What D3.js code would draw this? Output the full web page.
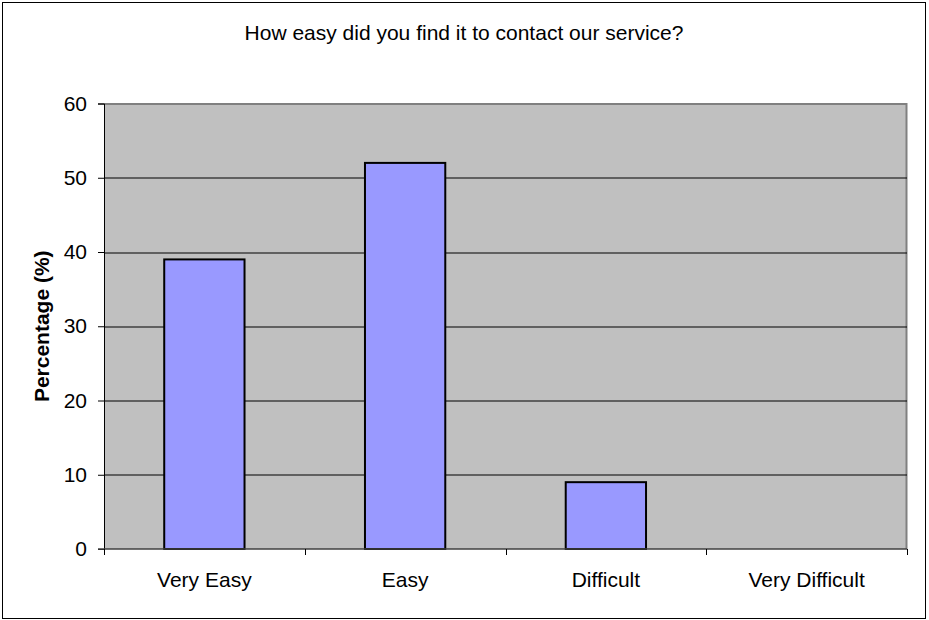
<!DOCTYPE html>
<html>
<head>
<meta charset="utf-8">
<script src="https://cdn.jsdelivr.net/npm/d3@7"></script>
<style>
  body { margin: 0; background: #fff; }
  svg { display: block; font-family: "Liberation Sans", Arial, sans-serif; }
</style>
</head>
<body>
<svg width="929" height="620"></svg>
<script>
var categories = ["Very Easy", "Easy", "Difficult", "Very Difficult"];
var percentages = [39, 52, 9, 0];
var yTicks = [0, 10, 20, 30, 40, 50, 60];

var svg = d3.select("svg"),
  margin = { top: 103.5, right: 22, bottom: 71, left: 104 },
  width = 929 - margin.left - margin.right,
  height = 620 - margin.top - margin.bottom;

// outer frame
svg.append("rect")
  .attr("x", 2.5).attr("y", 2.5)
  .attr("width", 923).attr("height", 616)
  .attr("fill", "#fff").attr("stroke", "#000").attr("stroke-width", 1);

svg.append("text")
  .attr("x", 464).attr("y", 40)
  .attr("text-anchor", "middle")
  .style("font-size", "21px")
  .text("How easy did you find it to contact our service?");

var data = categories.map(function (c, i) { return { cat: c, val: percentages[i] }; });

var xScale = d3.scaleBand().domain(categories).range([0, width]),
  yScale = d3.scaleLinear().domain([0, 60]).range([height, 0]);

var g = svg.append("g")
  .attr("transform", "translate(" + margin.left + "," + margin.top + ")");

// plot area
g.append("rect")
  .attr("width", width).attr("height", height)
  .attr("fill", "#c0c0c0");
g.append("path")
  .attr("d", "M0,0.5H" + (width - 0.5) + "V" + height)
  .attr("fill", "none").attr("stroke", "#808080").attr("stroke-width", 2);

// gridlines
g.selectAll(".grid")
  .data(yTicks.filter(function (t) { return t > 0 && t < 60; }))
  .enter().append("line")
  .attr("x1", 0).attr("x2", width)
  .attr("y1", function (d) { return Math.round(yScale(d)) + 0.5; })
  .attr("y2", function (d) { return Math.round(yScale(d)) + 0.5; })
  .attr("stroke", "#000").attr("stroke-width", 1);

// bars
var bw = xScale.bandwidth() * 0.4;
g.selectAll(".bar")
  .data(data.filter(function (d) { return d.val > 0; }))
  .enter().append("rect")
  .attr("class", "bar")
  .attr("x", function (d) { return xScale(d.cat) + (xScale.bandwidth() - bw) / 2; })
  .attr("y", function (d) { return yScale(d.val); })
  .attr("width", bw)
  .attr("height", function (d) { return height - yScale(d.val); })
  .attr("fill", "#9999ff").attr("stroke", "#000").attr("stroke-width", 2);

// y axis
var yAxis = g.append("g")
  .call(d3.axisLeft(yScale).tickValues(yTicks).tickSize(6).tickPadding(11));
yAxis.select(".domain").attr("stroke", "#000");
yAxis.selectAll("text").style("font-size", "21px").attr("fill", "#000")
  .style("font-family", "Liberation Sans, Arial, sans-serif");

// x axis
var xAxis = g.append("g")
  .attr("transform", "translate(0," + height + ")");
xAxis.append("line").attr("x1", -6).attr("x2", width).attr("y1", 0).attr("y2", 0)
  .attr("stroke", "#404040").attr("stroke-width", 1.5);
xAxis.selectAll(".xtick")
  .data(d3.range(categories.length + 1))
  .enter().append("line")
  .attr("x1", function (i) { return Math.round(i * xScale.step()) + 0.5; })
  .attr("x2", function (i) { return Math.round(i * xScale.step()) + 0.5; })
  .attr("y1", 0).attr("y2", 6)
  .attr("stroke", "#000");
xAxis.selectAll(".xlab")
  .data(categories)
  .enter().append("text")
  .attr("x", function (d) { return xScale(d) + xScale.bandwidth() / 2; })
  .attr("y", 38)
  .attr("text-anchor", "middle")
  .style("font-size", "21px")
  .text(function (d) { return d; });

svg.append("text")
  .attr("transform", "translate(49," + (margin.top + height / 2) + ") rotate(-90)")
  .attr("text-anchor", "middle")
  .style("font-size", "21px").style("font-weight", "bold")
  .text("Percentage (%)");
</script>
</body>
</html>
